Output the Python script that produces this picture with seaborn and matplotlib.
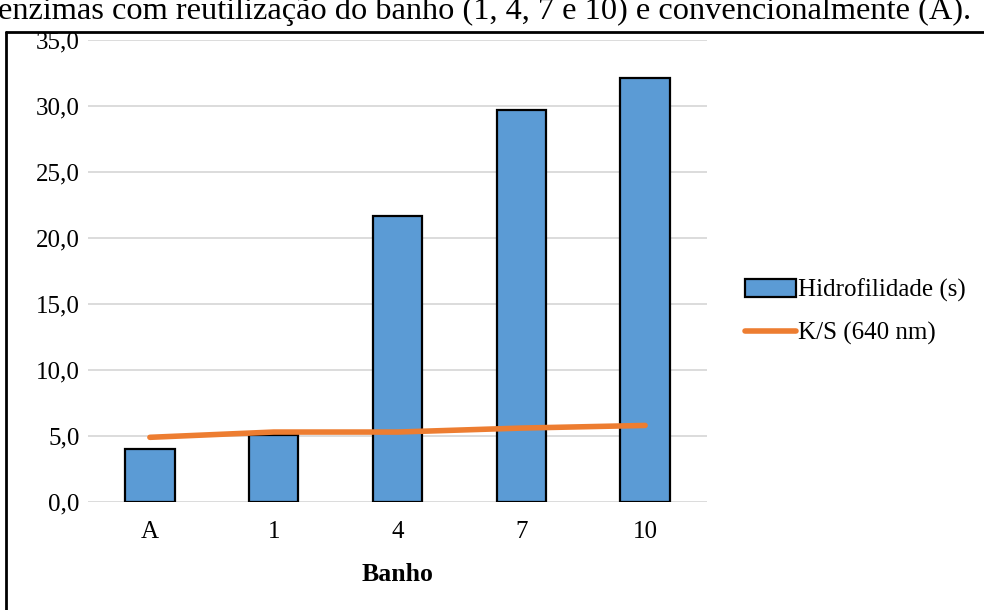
import matplotlib
matplotlib.use("Agg")
import matplotlib.pyplot as plt
import seaborn as sns
import pandas as pd
from matplotlib.lines import Line2D
from matplotlib.patches import Patch

banho = ["A", "1", "4", "7", "10"]
hidrofilidade = [4.0, 5.1, 21.7, 29.7, 32.1]
ks_640 = [4.9, 5.3, 5.3, 5.6, 5.8]
yticks = [0, 5, 10, 15, 20, 25, 30, 35]

sns.set_theme(style="white")
plt.rcParams["font.family"] = ["Liberation Serif", "DejaVu Serif"]
plt.rcParams["text.color"] = "black"

df = pd.DataFrame({"Banho": banho, "Hidrofilidade": hidrofilidade, "KS": ks_640})

fig = plt.figure(figsize=(9.84, 6.10), dpi=100)
ax = fig.add_axes([88 / 984, 1 - 502 / 610, (707 - 88) / 984, (502 - 40) / 610])

sns.barplot(data=df, x="Banho", y="Hidrofilidade", color="#5B9BD5",
            width=0.4, edgecolor="black", linewidth=1.6, saturation=1,
            ax=ax, zorder=3)
sns.lineplot(x=range(len(banho)), y=df["KS"], color="#ED7D31", linewidth=4,
             solid_capstyle="round", solid_joinstyle="round", ax=ax, zorder=4)

ax.set_ylim(0, 35)
ax.set_xlim(-0.5, len(banho) - 0.5)
ax.set_yticks(yticks)
ax.set_yticklabels([f"{v:.1f}".replace(".", ",") for v in yticks])
ax.yaxis.grid(True, color="#D9D9D9", linewidth=1.3, zorder=0)
ax.xaxis.grid(False)
for s in ax.spines.values():
    s.set_visible(False)
ax.tick_params(axis="both", length=0, labelsize=18, labelcolor="black")
ax.tick_params(axis="x", pad=14)
ax.tick_params(axis="y", pad=6)
ax.set_ylabel("")
ax.set_xlabel("Banho", fontsize=18.5, fontweight="bold", color="black", labelpad=14)

handles = [
    Patch(facecolor="#5B9BD5", edgecolor="black", linewidth=1.6, label="Hidrofilidade (s)"),
    Line2D([0], [0], color="#ED7D31", linewidth=4, solid_capstyle="round", label="K/S (640 nm)"),
]
fig.legend(handles=handles, loc="center left", bbox_to_anchor=(745 / 984, 1 - 312 / 610),
           frameon=False, fontsize=18, handlelength=2.05, handletextpad=0.08,
           labelspacing=0.8, borderaxespad=0, borderpad=0, labelcolor="black")

# outer frame of the chart area
fig.add_artist(Line2D([6 / 984, 6 / 984], [0, 1 - 32 / 610], color="black", linewidth=2,
                      transform=fig.transFigure))
fig.add_artist(Line2D([6 / 984, 1], [1 - 32 / 610, 1 - 32 / 610], color="black", linewidth=2,
                      transform=fig.transFigure))

fig.text(-0.002, 1 - 19 / 610,
         "enzimas com reutilização do banho (1, 4, 7 e 10) e convencionalmente (A).",
         fontsize=23.3, ha="left", va="baseline", color="black")

fig.savefig("out.png", dpi=100, facecolor="white")
